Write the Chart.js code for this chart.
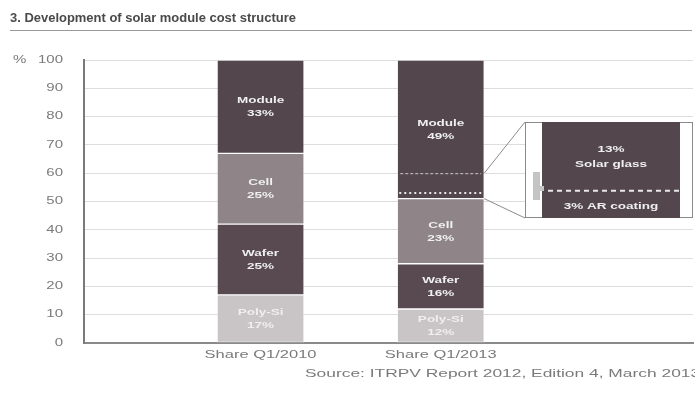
<!DOCTYPE html>
<html>
<head>
<meta charset="utf-8">
<script src="https://cdn.jsdelivr.net/npm/chart.js@4/dist/chart.umd.min.js"></script>
<style>
  html, body { margin: 0; padding: 0; background: #fff; }
  canvas { display: block; }
</style>
</head>
<body>
<canvas id="c" width="695" height="393"></canvas>
<script>
// Cost share of each value-chain step in a crystalline module (%)
const categories = ['Share Q1/2010', 'Share Q1/2013'];
const segmentNames = ['Poly-Si', 'Wafer', 'Cell', 'Module'];
const polySiShare = [17, 12];
const waferShare = [25, 16];
const cellShare = [25, 23];
const moduleShare = [33, 49];
const yTickValues = [0, 10, 20, 30, 40, 50, 60, 70, 80, 90, 100];

// Part of the 2013 module share that is broken out in the side box
const glassBand = [51, 60];
const coatingSplit = 53;
const calloutTexts = ['13%', 'Solar glass', '3% AR coating'];

const titleText = '3. Development of solar module cost structure';
const sourceText = 'Source: ITRPV Report 2012, Edition 4, March 2013';

const colors = ['#c9c4c5', '#584a50', '#8f8588', '#53464c'];
const FONT = "'Liberation Sans', Arial, sans-serif";
const SX = 1.5; // horizontal text stretch

function stretchText(ctx, text, x, y, align, sx) {
  ctx.save();
  ctx.translate(x, y);
  ctx.scale(sx, 1);
  ctx.textAlign = align;
  ctx.fillText(text, 0, 0);
  ctx.restore();
}

const seriesList = [polySiShare, waferShare, cellShare, moduleShare];
const datasets = seriesList.map((vals, k) => ({
  label: segmentNames[k],
  data: vals.map((v, i) => ({ x: i + 1, y: v })),
  backgroundColor: colors[k],
  borderColor: 'rgba(255,255,255,0.28)',
  borderWidth: 1,
  borderSkipped: false,
  barThickness: 87
}));

const decorations = {
  id: 'decorations',
  afterDatasetsDraw(chart) {
    const ctx = chart.ctx;
    const ys = chart.scales.y;
    const xs = chart.scales.x;
    const area = chart.chartArea;

    // title and rule
    ctx.save();
    ctx.fillStyle = '#4a4a4a';
    ctx.font = 'bold 12px ' + FONT;
    ctx.textBaseline = 'alphabetic';
    stretchText(ctx, titleText, 10, 22, 'left', 1.08);
    ctx.strokeStyle = '#9a9a9a';
    ctx.lineWidth = 1;
    ctx.beginPath();
    ctx.moveTo(10, 30.5);
    ctx.lineTo(692, 30.5);
    ctx.stroke();
    ctx.restore();

    // y tick labels
    ctx.save();
    ctx.fillStyle = '#7a7a7a';
    ctx.font = '10px ' + FONT;
    ctx.textBaseline = 'middle';
    yTickValues.forEach(v => {
      stretchText(ctx, String(v), 63, ys.getPixelForValue(v), 'right', SX);
    });
    stretchText(ctx, '%', 13, ys.getPixelForValue(100), 'left', SX);
    ctx.restore();

    // category labels and source line
    ctx.save();
    ctx.fillStyle = '#7a7a7a';
    ctx.font = '11px ' + FONT;
    ctx.textBaseline = 'middle';
    categories.forEach((c, i) => {
      stretchText(ctx, c, xs.getPixelForValue(i + 1), area.bottom + 12, 'center', SX);
    });
    stretchText(ctx, sourceText, 305, area.bottom + 31, 'left', 1.58);
    ctx.restore();

    // segment labels
    ctx.save();
    ctx.fillStyle = '#efefef';
    ctx.font = 'bold 9px ' + FONT;
    ctx.textBaseline = 'middle';
    chart.data.datasets.forEach((ds, k) => {
      chart.getDatasetMeta(k).data.forEach((el, i) => {
        const cy = (el.y + el.base) / 2;
        stretchText(ctx, ds.label, el.x, cy - 6, 'center', SX);
        stretchText(ctx, seriesList[k][i] + '%', el.x, cy + 7, 'center', SX);
      });
    });
    ctx.restore();

    // glass band inside the 2013 module bar
    const bar = chart.getDatasetMeta(3).data[1];
    const left = bar.x - bar.width / 2;
    const right = bar.x + bar.width / 2;
    const yTop = ys.getPixelForValue(glassBand[1]);
    const yBot = ys.getPixelForValue(glassBand[0]);
    const ySplit = ys.getPixelForValue(coatingSplit);
    ctx.save();
    ctx.strokeStyle = 'rgba(235,235,235,0.8)';
    ctx.lineWidth = 1;
    ctx.setLineDash([3, 2]);
    ctx.beginPath();
    ctx.moveTo(left + 3, yTop + 0.5);
    ctx.lineTo(right - 3, yTop + 0.5);
    ctx.stroke();
    ctx.strokeStyle = '#e8e8e8';
    ctx.lineWidth = 2;
    ctx.setLineDash([2, 3]);
    ctx.beginPath();
    ctx.moveTo(left + 2, ySplit);
    ctx.lineTo(right - 2, ySplit);
    ctx.stroke();
    ctx.restore();

    // side box
    const boxL = 525, boxR = 693, boxT = 122, boxB = 218;
    const inL = 542, inR = 680;
    ctx.save();
    ctx.strokeStyle = '#8a8a8a';
    ctx.lineWidth = 1;
    ctx.beginPath();
    ctx.moveTo(right, yTop);
    ctx.lineTo(boxL, boxT);
    ctx.moveTo(right, yBot);
    ctx.lineTo(boxL, boxB);
    ctx.stroke();
    ctx.fillStyle = '#ffffff';
    ctx.fillRect(boxL, boxT, boxR - boxL, boxB - boxT);
    ctx.strokeRect(boxL + 0.5, boxT + 0.5, boxR - boxL - 1, boxB - boxT - 1);
    ctx.fillStyle = colors[3];
    ctx.fillRect(inL, boxT, inR - inL, boxB - boxT);
    // bracket marker
    ctx.fillStyle = '#c4c4c4';
    ctx.fillRect(533, 172, 7, 28);
    ctx.fillRect(540, 186, 4, 5);
    // split line in box
    const boxSplit = boxT + (glassBand[1] - coatingSplit) / (glassBand[1] - glassBand[0]) * (boxB - boxT) - 6;
    ctx.strokeStyle = '#e8e8e8';
    ctx.lineWidth = 2;
    ctx.setLineDash([5, 4]);
    ctx.beginPath();
    ctx.moveTo(inL + 6, boxSplit);
    ctx.lineTo(inR, boxSplit);
    ctx.stroke();
    ctx.setLineDash([]);
    ctx.fillStyle = '#efefef';
    ctx.font = 'bold 9px ' + FONT;
    ctx.textBaseline = 'middle';
    const cx = (inL + inR) / 2;
    stretchText(ctx, calloutTexts[0], cx, boxT + 28, 'center', SX);
    stretchText(ctx, calloutTexts[1], cx, boxT + 43, 'center', SX);
    stretchText(ctx, calloutTexts[2], cx, boxSplit + 16, 'center', SX);
    ctx.restore();
  }
};

new Chart(document.getElementById('c'), {
  type: 'bar',
  data: { datasets },
  options: {
    responsive: false,
    animation: false,
    layout: { padding: { left: 84, top: 60, right: 2, bottom: 42 } },
    plugins: { legend: { display: false }, tooltip: { enabled: false } },
    scales: {
      x: {
        type: 'linear',
        offset: false,
        min: 0.02,
        max: 3.4,
        stacked: true,
        grid: { display: false },
        ticks: { display: false },
        border: { display: true, color: '#8a8a8a', width: 2 }
      },
      y: {
        min: 0,
        max: 100,
        stacked: true,
        ticks: { display: false, stepSize: 10 },
        grid: { color: '#dddddd', drawTicks: false },
        border: { display: true, color: '#7a7a7a', width: 2 }
      }
    }
  },
  plugins: [decorations]
});
</script>
</body>
</html>
